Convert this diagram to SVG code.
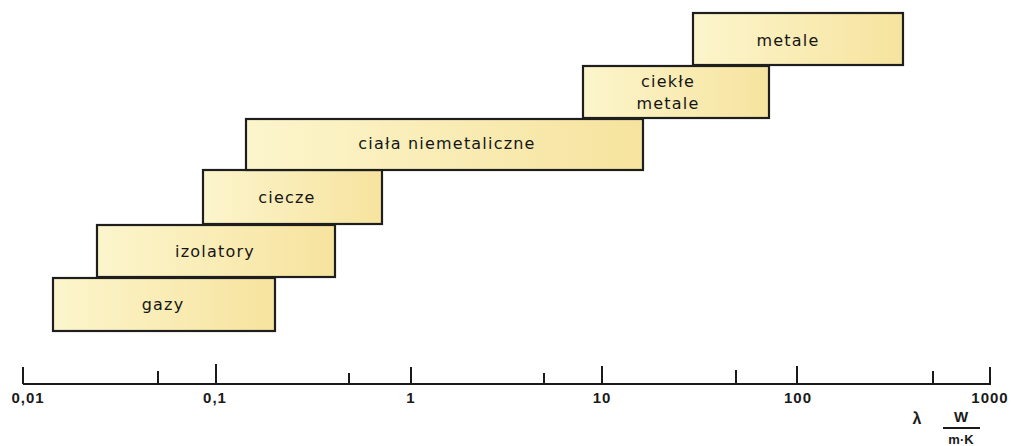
<svg xmlns="http://www.w3.org/2000/svg" width="1013" height="446" viewBox="0 0 1013 446">
  <style>
    .box { stroke: #1e1e1e; stroke-width: 2.2; fill: url(#yel); }
    .lbl { font-family: "DejaVu Sans", sans-serif; font-size: 16px; letter-spacing: 1.2px; fill: #151515; text-anchor: middle; }
    .ax { stroke: #1a1a1a; stroke-width: 2; fill: none; }
    .num { font-family: "Liberation Sans", Arial, sans-serif; font-weight: bold; font-size: 15px; letter-spacing: 1px; fill: #1a1a1a; text-anchor: middle; }
    .unit { font-family: "Liberation Sans", Arial, sans-serif; font-weight: bold; fill: #1a1a1a; text-anchor: middle; }
  </style>
  <defs>
    <linearGradient id="yel" x1="0" y1="0" x2="1" y2="0">
      <stop offset="0" stop-color="#fcf5cc"/>
      <stop offset="1" stop-color="#f6e39e"/>
    </linearGradient>
  </defs>
  <rect width="1013" height="446" fill="#ffffff"/>

  <g id="gazy">
    <rect class="box" x="53" y="278" width="222" height="53"/>
    <text class="lbl" x="163" y="310">gazy</text>
  </g>
  <g id="izolatory">
    <rect class="box" x="97" y="225" width="238" height="52"/>
    <text class="lbl" x="215" y="257">izolatory</text>
  </g>
  <g id="ciecze">
    <rect class="box" x="203" y="170" width="179" height="54"/>
    <text class="lbl" x="287" y="203">ciecze</text>
  </g>
  <g id="ciala-niemetaliczne">
    <rect class="box" x="246" y="119" width="397" height="51"/>
    <text class="lbl" x="447" y="149">ciała niemetaliczne</text>
  </g>
  <g id="ciekle-metale">
    <rect class="box" x="583" y="66" width="186" height="52"/>
    <text class="lbl" x="668" y="87">ciekłe</text>
    <text class="lbl" x="668" y="109">metale</text>
  </g>
  <g id="metale">
    <rect class="box" x="693" y="13" width="210" height="52"/>
    <text class="lbl" x="788" y="46">metale</text>
  </g>

  <g id="axis">
    <line class="ax" x1="23" y1="384" x2="991" y2="384"/>
    <line class="ax" x1="23" y1="367" x2="23" y2="384"/>
    <line class="ax" x1="158" y1="371" x2="158" y2="384"/>
    <line class="ax" x1="216" y1="364" x2="216" y2="384"/>
    <line class="ax" x1="349" y1="373" x2="349" y2="384"/>
    <line class="ax" x1="411" y1="367" x2="411" y2="384"/>
    <line class="ax" x1="544" y1="373" x2="544" y2="384"/>
    <line class="ax" x1="602" y1="366" x2="602" y2="384"/>
    <line class="ax" x1="736" y1="370" x2="736" y2="384"/>
    <line class="ax" x1="797" y1="366" x2="797" y2="384"/>
    <line class="ax" x1="933" y1="371" x2="933" y2="384"/>
    <line class="ax" x1="990" y1="367" x2="990" y2="384"/>
    <text class="num" x="28" y="403">0,01</text>
    <text class="num" x="215" y="403">0,1</text>
    <text class="num" x="411" y="403">1</text>
    <text class="num" x="602" y="403">10</text>
    <text class="num" x="798" y="403">100</text>
    <text class="num" x="990" y="403">1000</text>
    <text class="unit" x="917" y="424" font-size="16">λ</text>
    <text class="unit" x="961" y="422" font-size="15">W</text>
    <line class="ax" x1="943" y1="428" x2="980" y2="428" stroke-width="1.8"/>
    <text class="unit" x="961" y="444" font-size="13">m·K</text>
  </g>
</svg>
